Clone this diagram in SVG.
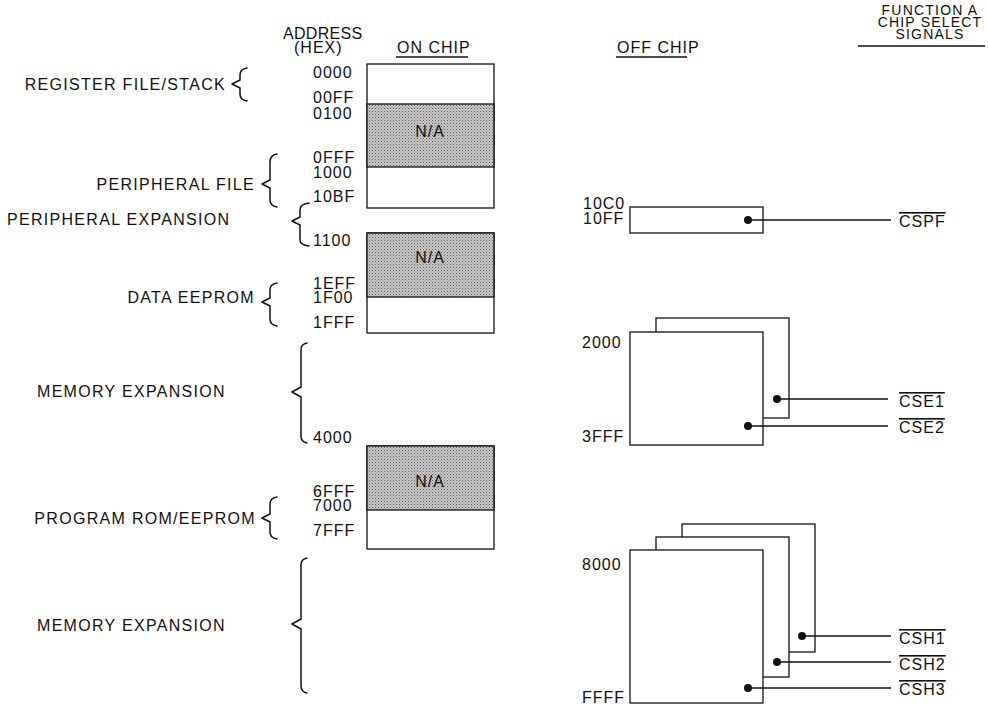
<svg xmlns="http://www.w3.org/2000/svg" width="988" height="706" viewBox="0 0 988 706">
<defs>
<pattern id="stipple" width="3" height="3" patternUnits="userSpaceOnUse">
<rect width="3" height="3" fill="#c9c9c9"/>
<rect x="0" y="0" width="1" height="1" fill="#5a5a5a"/>
<rect x="1.5" y="1.5" width="1" height="1" fill="#7e7e7e"/>
</pattern>
</defs>
<style>
text{font-family:"Liberation Sans",Arial,sans-serif;font-size:16px;letter-spacing:1px;fill:#111}
.hd{font-size:14px;letter-spacing:1.2px}
.lb{letter-spacing:1.3px}
.box{fill:#fff;stroke:#111;stroke-width:1.3}
.na{fill:url(#stipple);stroke:#111;stroke-width:1.3}
.ln{stroke:#111;stroke-width:1.3;fill:none}
.br{stroke:#111;stroke-width:1.5;fill:none;stroke-linejoin:round;stroke-linecap:round}
.dot{fill:#111}
.ov{text-decoration:overline}
.mid{text-anchor:middle}
.end{text-anchor:end}
</style>
<rect width="988" height="706" fill="#fff"/>

<g id="headers">
<text x="283" y="39" style="letter-spacing:0.3px">ADDRESS</text>
<text x="294" y="53">(HEX)</text>
<text x="397" y="53">ON CHIP</text>
<line class="ln" x1="396" y1="57" x2="468" y2="57"/>
<text x="617" y="53">OFF CHIP</text>
<line class="ln" x1="616" y1="57" x2="687" y2="57"/>
<text class="hd mid" x="930" y="15">FUNCTION A</text>
<text class="hd mid" x="930" y="27">CHIP SELECT</text>
<text class="hd mid" x="930" y="39">SIGNALS</text>
<line class="ln" x1="858" y1="46" x2="985" y2="46"/>
</g>

<g id="onchip-block1">
<rect class="box" x="367" y="64" width="127" height="144"/>
<rect class="na" x="367" y="104" width="127" height="63"/>
<text class="mid" x="430" y="137">N/A</text>
</g>
<g id="onchip-block2">
<rect class="box" x="367" y="233" width="127" height="100"/>
<rect class="na" x="367" y="233" width="127" height="64"/>
<text class="mid" x="430" y="263">N/A</text>
</g>
<g id="onchip-block3">
<rect class="box" x="367" y="446" width="127" height="103"/>
<rect class="na" x="367" y="446" width="127" height="64"/>
<text class="mid" x="430" y="487">N/A</text>
</g>

<g id="addresses">
<text x="313" y="78">0000</text>
<text x="313" y="103">00FF</text>
<text x="313" y="119">0100</text>
<text x="313" y="163">0FFF</text>
<text x="313" y="178">1000</text>
<text x="313" y="202">10BF</text>
<text x="313" y="246">1100</text>
<text x="313" y="289">1EFF</text>
<text x="313" y="303">1F00</text>
<text x="313" y="328">1FFF</text>
<text x="313" y="443">4000</text>
<text x="313" y="497">6FFF</text>
<text x="313" y="511">7000</text>
<text x="313" y="536">7FFF</text>
</g>

<g id="region-register-file">
<text class="end lb" x="226" y="90">REGISTER FILE/STACK</text>
<path class="br" d="M247 68 Q240 69 240 75 L240 80 L232 84 L240 88 L240 94 Q240 100 247 101"/>
</g>
<g id="region-peripheral-file">
<text class="end lb" x="255" y="190">PERIPHERAL FILE</text>
<path class="br" d="M277 154 Q270 155 270 162 L270 180 L262 184 L270 188 L270 200 Q270 206 277 207"/>
</g>
<g id="region-peripheral-expansion">
<text class="lb" x="7" y="225">PERIPHERAL EXPANSION</text>
<path class="br" d="M309 203 Q300 204 300 210 L300 217 L292 221 L300 225 L300 240 Q300 245 309 246"/>
</g>
<g id="region-data-eeprom">
<text class="end lb" x="255" y="303">DATA EEPROM</text>
<path class="br" d="M277 283 Q270 284 270 290 L270 298 L262 302 L270 306 L270 319 Q270 325 277 326"/>
</g>
<g id="region-memory-expansion-1">
<text class="lb" x="37" y="397">MEMORY EXPANSION</text>
<path class="br" d="M307 343 Q301 344 301 350 L301 387 L292 392 L301 397 L301 436 Q301 442 307 443"/>
</g>
<g id="region-program-rom">
<text class="end lb" x="256" y="524">PROGRAM ROM/EEPROM</text>
<path class="br" d="M277 497 Q270 498 270 504 L270 514 L262 518 L270 522 L270 532 Q270 538 277 539"/>
</g>
<g id="region-memory-expansion-2">
<text class="lb" x="37" y="631">MEMORY EXPANSION</text>
<path class="br" d="M307 558 Q301 559 301 565 L301 619 L292 624 L301 629 L301 686 Q301 692 307 693"/>
</g>

<g id="offchip-periph">
<text x="583" y="209">10C0</text>
<text x="583" y="224">10FF</text>
<rect class="box" x="630" y="207" width="133" height="26"/>
</g>
<g id="offchip-eeprom">
<text x="582" y="348">2000</text>
<text x="582" y="442">3FFF</text>
<rect class="box" x="656" y="318" width="133" height="100"/>
<rect class="box" x="630" y="332" width="133" height="113"/>
</g>
<g id="offchip-memory">
<text x="582" y="570">8000</text>
<text x="582" y="703">FFFF</text>
<rect class="box" x="682" y="524" width="133" height="128"/>
<rect class="box" x="656" y="537" width="133" height="140"/>
<rect class="box" x="630" y="550" width="133" height="153"/>
</g>

<g id="connectors">
<line class="ln" x1="748" y1="220" x2="891" y2="220"/>
<circle class="dot" cx="748" cy="220" r="4"/>
<line class="ln" x1="777" y1="399" x2="888" y2="399"/>
<circle class="dot" cx="777" cy="399" r="4"/>
<line class="ln" x1="748" y1="426" x2="888" y2="426"/>
<circle class="dot" cx="748" cy="426" r="4"/>
<line class="ln" x1="802" y1="636" x2="891" y2="636"/>
<circle class="dot" cx="802" cy="636" r="4"/>
<line class="ln" x1="777" y1="662" x2="891" y2="662"/>
<circle class="dot" cx="777" cy="662" r="4"/>
<line class="ln" x1="748" y1="688" x2="891" y2="688"/>
<circle class="dot" cx="748" cy="688" r="4"/>
</g>

<g id="signals">
<text class="ov" x="899" y="227">CSPF</text>
<text class="ov" x="899" y="407">CSE1</text>
<text class="ov" x="899" y="433">CSE2</text>
<text class="ov" x="899" y="644">CSH1</text>
<text class="ov" x="899" y="670">CSH2</text>
<text class="ov" x="899" y="695">CSH3</text>
</g>
</svg>
